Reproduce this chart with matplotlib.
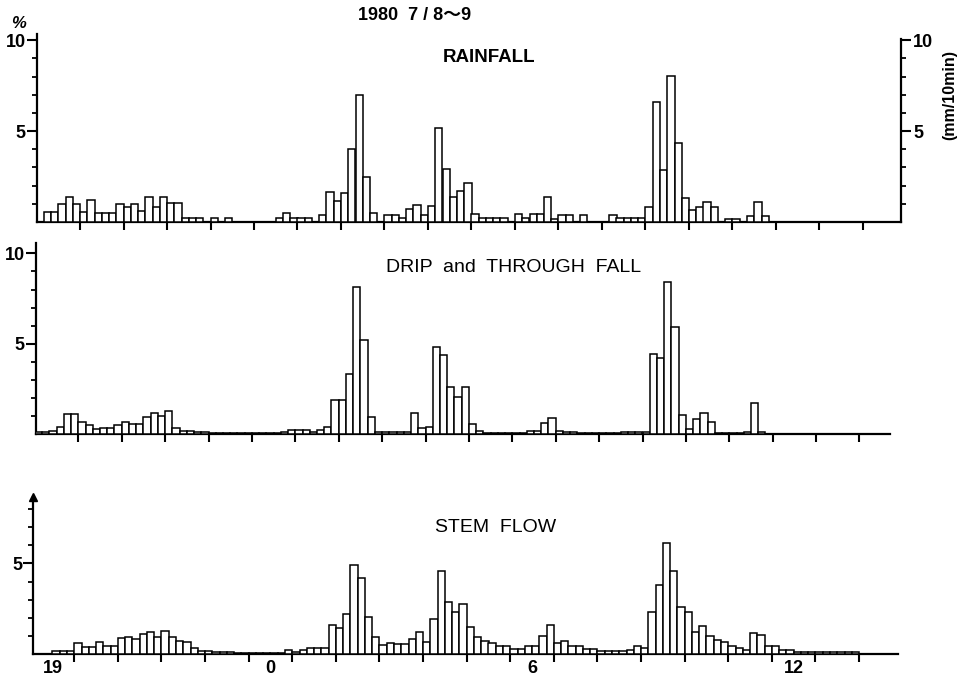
import matplotlib
matplotlib.use("Agg")
import matplotlib.pyplot as plt
from matplotlib import font_manager

# 10-minute amounts (% of event total), 1980 July 8-9
# hours are counted from 19:00 on the 8th (24 = 0:00, 30 = 6:00 ...)
rain_start = 19 + 10 / 60
rainfall = [0.55, 0.55, 1.0, 1.35, 1.0, 0.55, 1.2, 0.5, 0.5, 0.5,
            1.0, 0.8, 1.0, 0.6, 1.4, 0.8, 1.4, 1.05, 1.05, 0.2,
            0.2, 0.2, 0, 0.2, 0, 0.2, 0, 0, 0, 0,
            0, 0, 0.2, 0.5, 0.2, 0.2, 0.2, 0, 0.4, 1.65,
            1.15, 1.6, 4.0, 7.0, 2.5, 0.5, 0, 0.4, 0.4, 0.2,
            0.7, 0.95, 0.4, 0.9, 5.15, 2.9, 1.4, 1.7, 2.15, 0.45,
            0.2, 0.2, 0.2, 0.2, 0, 0.45, 0.2, 0.45, 0.45, 1.35,
            0.15, 0.4, 0.4, 0, 0.4, 0, 0, 0, 0.4, 0.2,
            0.2, 0.2, 0.2, 0.85, 6.6, 2.85, 8.05, 4.35, 1.3, 0.65,
            0.85, 1.1, 0.85, 0, 0.15, 0.15, 0, 0.35, 1.1, 0.35]

drip_start = 19.0
drip_through = [0.1, 0.1, 0.2, 0.42, 1.1, 1.1, 0.7, 0.5, 0.28, 0.37,
                0.37, 0.5, 0.7, 0.57, 0.57, 0.94, 1.16, 1.03, 1.3, 0.37,
                0.18, 0.18, 0.1, 0.1, 0.05, 0.05, 0.05, 0.05, 0.05, 0.05,
                0.05, 0.05, 0.05, 0.05, 0.15, 0.24, 0.24, 0.24, 0.15, 0.24,
                0.39, 1.9, 1.9, 3.33, 8.16, 5.2, 0.94, 0.15, 0.15, 0.15,
                0.15, 0.15, 1.16, 0.37, 0.42, 4.8, 4.4, 2.63, 2.04, 2.63,
                0.57, 0.18, 0.08, 0.08, 0.08, 0.08, 0.08, 0.08, 0.18, 0.18,
                0.6, 0.92, 0.18, 0.1, 0.1, 0.05, 0.05, 0.05, 0.05, 0.05,
                0.05, 0.1, 0.1, 0.1, 0.1, 4.45, 4.2, 8.4, 5.95, 1.07,
                0.3, 0.85, 1.16, 0.68, 0.05, 0.05, 0.05, 0.05, 0.15, 1.75,
                0.15, 0.04, 0.04]

stem_start = 19.5
stem_flow = [0.2, 0.2, 0.2, 0.6, 0.42, 0.42, 0.65, 0.48, 0.48, 0.88,
             0.97, 0.82, 1.12, 1.25, 0.97, 1.3, 0.97, 0.75, 0.65, 0.33,
             0.2, 0.2, 0.1, 0.1, 0.1, 0.05, 0.05, 0.05, 0.05, 0.05,
             0.05, 0.05, 0.25, 0.1, 0.25, 0.37, 0.37, 0.37, 1.6, 1.43,
             2.2, 4.9, 4.2, 2.05, 0.95, 0.5, 0.64, 0.55, 0.55, 0.82,
             1.24, 0.7, 1.93, 4.6, 2.85, 2.3, 2.75, 1.5, 0.95, 0.73,
             0.62, 0.46, 0.46, 0.31, 0.31, 0.46, 0.46, 1.0, 1.63, 0.62,
             0.71, 0.46, 0.46, 0.27, 0.27, 0.16, 0.16, 0.16, 0.16, 0.25,
             0.46, 0.37, 2.33, 3.8, 6.1, 4.6, 2.6, 2.3, 1.2, 1.55,
             1.0, 0.78, 0.7, 0.48, 0.33, 0.24, 1.15, 1.06, 0.48, 0.48,
             0.24, 0.24, 0.11, 0.11, 0.11, 0.11, 0.11, 0.11, 0.11, 0.11,
             0.11]

hour_ticks = list(range(20, 39))
hour_labels = ['19', '0', '6', '12']
hour_label_pos = [19.5, 24.5, 30.5, 36.5]

W, H = 967, 685
names = {f.name for f in font_manager.fontManager.ttflist}
NARROW = 'Liberation Sans Narrow' if 'Liberation Sans Narrow' in names else 'Liberation Sans'
SANS = 'Liberation Sans'

fig = plt.figure(figsize=(W / 100, H / 100), dpi=100)
fig.patch.set_facecolor('white')


def panel_axes(p20, pph, left, right, base, unit, ytop):
    ax = fig.add_axes([left / W, 1 - base / H, (right - left) / W, ytop * unit / H])
    ax.set_xlim(20 + (left - p20) / pph, 20 + (right - p20) / pph)
    ax.set_ylim(0, ytop)
    ax.patch.set_alpha(0)
    for s in ['top', 'right']:
        ax.spines[s].set_visible(False)
    for s in ['left', 'bottom']:
        ax.spines[s].set_linewidth(1.6)
    ax.set_xticks(hour_ticks)
    ax.set_xticklabels([])
    ax.tick_params(axis='x', which='major', direction='out', length=6, width=1.5)
    ax.tick_params(axis='y', which='major', direction='out', length=7, width=1.5,
                   labelsize=13, pad=1)
    ax.tick_params(axis='y', which='minor', direction='out', length=3.5, width=1.3)
    return ax


def draw_bars(ax, start, values):
    xs = [start + i / 6 for i in range(len(values))]
    ax.bar(xs, values, width=1 / 6, align='edge', color='white',
           edgecolor='black', linewidth=1.1, zorder=3)


def bold_labels(ax, axis='y'):
    labs = ax.get_yticklabels() if axis == 'y' else ax.get_xticklabels(minor=True)
    for t in labs:
        t.set_fontfamily(NARROW)
        t.set_fontweight('bold')


# RAINFALL
ax1 = panel_axes(80.0, 43.5, 36.7, 900.7, 222.0, 18.17, 10.35)
draw_bars(ax1, rain_start, rainfall)
ax1.set_yticks([5, 10])
ax1.set_yticklabels(['5', '10'])
ax1.set_yticks(range(1, 10), minor=True)
bold_labels(ax1)
ax1r = ax1.twinx()
ax1r.set_ylim(ax1.get_ylim())
for s in ['top', 'left', 'bottom']:
    ax1r.spines[s].set_visible(False)
ax1r.spines['right'].set_linewidth(1.6)
ax1r.spines['right'].set_bounds(0, 10.05)
ax1r.set_yticks([5, 10])
ax1r.set_yticklabels(['5', '10'])
ax1r.set_yticks(range(1, 10), minor=True)
ax1r.tick_params(axis='y', which='major', direction='out', length=7, width=1.5,
                 labelsize=13, pad=2)
ax1r.tick_params(axis='y', which='minor', direction='out', length=3.5, width=1.3)
bold_labels(ax1r)

# DRIP and THROUGH FALL
ax2 = panel_axes(78.3, 43.4, 36.0, 890.0, 434.3, 18.1, 10.57)
draw_bars(ax2, drip_start, drip_through)
ax2.set_yticks([5, 10])
ax2.set_yticklabels(['5', '10'])
ax2.set_yticks(range(1, 10), minor=True)
bold_labels(ax2)

# STEM FLOW
ax3 = panel_axes(74.3, 43.6, 33.3, 898.0, 654.3, 18.2, 8.66)
draw_bars(ax3, stem_start, stem_flow)
ax3.set_yticks([5])
ax3.set_yticklabels(['5'])
ax3.set_yticks(range(1, 9), minor=True)
bold_labels(ax3)
ax3.set_xticks(hour_label_pos, minor=True)
ax3.set_xticklabels(hour_labels, minor=True)
ax3.tick_params(axis='x', which='minor', length=0, labelsize=13, pad=4)
bold_labels(ax3, 'x')
ax3.plot([0], [1], marker='^', color='black', markersize=6,
         transform=ax3.transAxes, clip_on=False, zorder=5)

# texts
fig.text(415 / W, 1 - 15 / H, '1980  7 / 8～9', ha='center', va='center',
         fontsize=13, fontweight='bold', family=[NARROW, 'Noto Sans CJK JP'])
fig.text(18 / W, 1 - 24 / H, '%', ha='center', va='center', fontsize=12,
         fontweight='bold', fontstyle='italic', family=SANS)
fig.text(950 / W, 1 - 95 / H, '(mm/10min)', ha='center', va='center', rotation=90,
         fontsize=11.5, fontweight='bold', family=NARROW)
fig.text(489 / W, 1 - 58 / H, 'RAINFALL', ha='center', va='center',
         fontsize=13.5, fontweight='bold', family=SANS)
fig.text(514 / W, 1 - 268 / H, 'DRIP  and  THROUGH  FALL', ha='center', va='center',
         fontsize=14, family=SANS)
fig.text(496 / W, 1 - 527 / H, 'STEM  FLOW', ha='center', va='center',
         fontsize=14, family=SANS)

fig.savefig('out.png', dpi=100, facecolor='white')
